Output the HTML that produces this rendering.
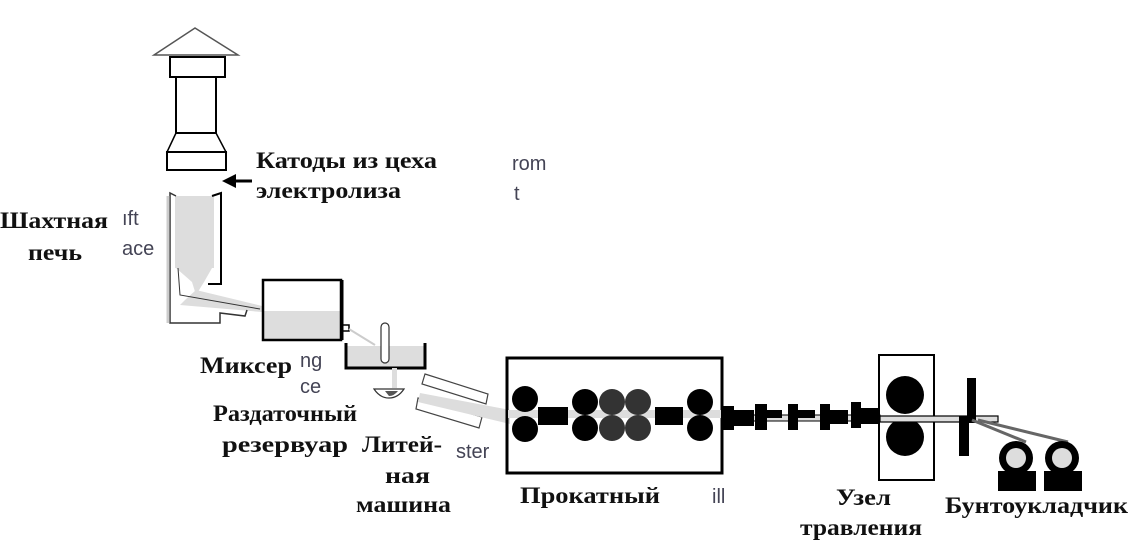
<!DOCTYPE html>
<html><head><meta charset="utf-8"><style>
html,body{margin:0;padding:0;background:#fff;width:1129px;height:557px;overflow:hidden}
svg{display:block}
.t{font-family:"Liberation Serif","Noto Serif CJK SC",serif;font-weight:bold;font-size:23px;fill:#111}
.g{font-family:"Liberation Sans",sans-serif;font-size:20px;fill:#445}
</style></head><body>
<svg width="1129" height="557" viewBox="0 0 1129 557">
<!-- chimney -->
<polygon points="154,55 195,28 238,55" fill="none" stroke="#555" stroke-width="1.5"/>
<rect x="170" y="57" width="55" height="20" fill="none" stroke="#000" stroke-width="2"/>
<rect x="176" y="77" width="40" height="56" fill="none" stroke="#000" stroke-width="2"/>
<polyline points="176,133 167,152 226,152 216,133" fill="none" stroke="#000" stroke-width="1.5"/>
<rect x="167" y="152" width="59" height="18" fill="none" stroke="#000" stroke-width="2"/>
<!-- arrow -->
<line x1="234" y1="181" x2="252" y2="181" stroke="#000" stroke-width="3"/>
<polygon points="222,181 236,174 236,188" fill="#000"/>
<!-- shaft furnace -->
<rect x="175" y="196" width="39" height="72" fill="#ddd"/>
<polygon points="176,268 212,268 204,282 196,295 192,282" fill="#ddd"/>
<polygon points="185,300 196,290 262,306 262,312 180,305" fill="#ddd"/>
<polyline points="176,196 170,193 170,323 220,323 220,313 245,316 247,310" fill="none" stroke="#333" stroke-width="1.5"/>
<line x1="168" y1="196" x2="168" y2="323" stroke="#ccc" stroke-width="3"/>
<polyline points="212,196 221,193 221,284 208,284" fill="none" stroke="#000" stroke-width="2"/>
<polyline points="178,268 180,295 260,309" fill="none" stroke="#333" stroke-width="1"/>
<!-- mixer -->
<rect x="263" y="311" width="77" height="29" fill="#ddd"/>
<rect x="263" y="280" width="78" height="60" fill="none" stroke="#000" stroke-width="2.5"/>
<line x1="342" y1="280" x2="342" y2="340" stroke="#000" stroke-width="3"/>
<rect x="341" y="325" width="8" height="6" fill="none" stroke="#000" stroke-width="1.5"/>
<line x1="349" y1="329" x2="375" y2="345" stroke="#ccc" stroke-width="2"/>
<!-- trough -->
<rect x="346" y="346" width="78" height="21" fill="#ddd"/>
<polyline points="346,343 346,368 425,368 425,343" fill="none" stroke="#000" stroke-width="3"/>
<rect x="381" y="323" width="8" height="40" rx="4" fill="#fff" stroke="#333" stroke-width="1.2"/>
<rect x="392" y="368" width="5" height="20" fill="#ddd"/>
<path d="M374,389 L404,389 Q398,398 389,398 Q380,398 374,389 Z" fill="#fff" stroke="#333" stroke-width="1.2"/>
<path d="M385,391 L398,391 Q394,396 389,396 Z" fill="#555"/>
<!-- caster -->
<polygon points="425,374 488,394 486,404 422,384" fill="none" stroke="#444" stroke-width="1.2"/>
<polygon points="418,398 482,417 479,428 416,409" fill="none" stroke="#444" stroke-width="1.2"/>
<polygon points="420,393 510,410 510,424 418,402" fill="#ddd"/>
<!-- rolling mill -->
<rect x="507" y="358" width="215" height="115" fill="none" stroke="#000" stroke-width="3"/>
<rect x="508" y="410" width="213" height="8" fill="#ddd"/>
<g fill="#000">
<circle cx="525" cy="399" r="13"/><circle cx="525" cy="429" r="13"/>
<rect x="538" y="407" width="30" height="18"/>
<circle cx="585" cy="402" r="13"/><circle cx="585" cy="428" r="13"/>
<circle cx="612" cy="402" r="13" fill="#333"/><circle cx="612" cy="428" r="13" fill="#333"/>
<circle cx="638" cy="402" r="13" fill="#333"/><circle cx="638" cy="428" r="13" fill="#333"/>
<rect x="655" y="407" width="28" height="18"/>
<circle cx="700" cy="402" r="13"/><circle cx="700" cy="428" r="13"/>
</g>
<!-- line to pickling -->
<rect x="722" y="415" width="158" height="6" fill="#ddd" stroke="#000" stroke-width="1"/>
<g fill="#000">
<rect x="722" y="406" width="12" height="24"/><rect x="734" y="410" width="20" height="16"/>
<rect x="755" y="404" width="12" height="26"/><rect x="767" y="410" width="15" height="8"/>
<rect x="788" y="404" width="10" height="26"/><rect x="798" y="410" width="17" height="8"/>
<rect x="820" y="404" width="10" height="26"/><rect x="830" y="410" width="18" height="14"/>
<rect x="851" y="402" width="10" height="26"/><rect x="861" y="408" width="18" height="16"/>
</g>
<!-- pickling -->
<rect x="879" y="355" width="55" height="125" fill="none" stroke="#000" stroke-width="2"/>
<circle cx="905" cy="395" r="19" fill="#000"/><circle cx="905" cy="437" r="19" fill="#000"/>
<rect x="880" y="416" width="118" height="6" fill="#ddd" stroke="#000" stroke-width="1.2"/>
<!-- coiler -->
<rect x="967" y="378" width="9" height="45" fill="#000"/>
<rect x="959" y="416" width="10" height="40" fill="#000"/>
<line x1="972" y1="420" x2="1026" y2="442" stroke="#666" stroke-width="3"/>
<line x1="978" y1="420" x2="1068" y2="442" stroke="#666" stroke-width="3"/>
<circle cx="1016" cy="458" r="17" fill="#000"/><circle cx="1016" cy="458" r="10" fill="#ddd"/>
<rect x="998" y="471" width="38" height="20" fill="#000"/>
<circle cx="1062" cy="458" r="17" fill="#000"/><circle cx="1062" cy="458" r="10" fill="#ddd"/>
<rect x="1044" y="471" width="38" height="20" fill="#000"/>
<!-- labels -->
<text class="t" x="256" y="168" textLength="181" lengthAdjust="spacingAndGlyphs">Катоды из цеха</text>
<text class="t" x="256" y="198" textLength="145" lengthAdjust="spacingAndGlyphs">электролиза</text>
<text class="g" x="512" y="170">rom</text>
<text class="g" x="514" y="200">t</text>
<text class="t" x="0" y="228" textLength="108" lengthAdjust="spacingAndGlyphs">Шахтная</text>
<text class="t" x="28" y="260" textLength="54" lengthAdjust="spacingAndGlyphs">печь</text>
<text class="g" x="122" y="225">ıft</text>
<text class="g" x="122" y="255">ace</text>
<text class="t" x="200" y="373" textLength="92" lengthAdjust="spacingAndGlyphs">Миксер</text>
<text class="g" x="300" y="367">ng</text>
<text class="g" x="300" y="393">ce</text>
<text class="t" x="213" y="421" textLength="144" lengthAdjust="spacingAndGlyphs">Раздаточный</text>
<text class="t" x="222" y="452" textLength="126" lengthAdjust="spacingAndGlyphs">резервуар</text>
<text class="t" x="362" y="452" textLength="80" lengthAdjust="spacingAndGlyphs">Литей-</text>
<text class="t" x="385" y="483" textLength="45" lengthAdjust="spacingAndGlyphs">ная</text>
<text class="t" x="356" y="512" textLength="95" lengthAdjust="spacingAndGlyphs">машина</text>
<text class="g" x="456" y="458">ster</text>
<text class="t" x="520" y="503" textLength="140" lengthAdjust="spacingAndGlyphs">Прокатный</text>
<text class="g" x="712" y="503">ill</text>
<text class="t" x="836" y="505" textLength="55" lengthAdjust="spacingAndGlyphs">Узел</text>
<text class="t" x="800" y="535" textLength="122" lengthAdjust="spacingAndGlyphs">травления</text>
<text class="t" x="945" y="513" textLength="183" lengthAdjust="spacingAndGlyphs">Бунтоукладчик</text>
</svg>
</body></html>
